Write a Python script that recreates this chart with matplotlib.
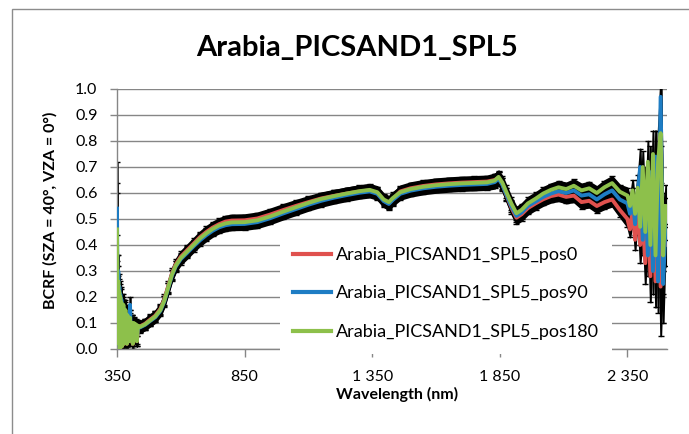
import matplotlib
matplotlib.use("Agg")
import matplotlib.pyplot as plt
from matplotlib.patches import Rectangle

plt.rcParams['font.family'] = ['Lato', 'DejaVu Sans']

# longitud de onda (nm)
wl = [350, 351, 353, 355, 357, 359, 361, 363, 365, 367, 369, 371, 373, 375, 377, 379, 381,
      383, 385, 387, 389, 391, 393, 395, 398, 401, 404, 408, 412, 416, 420, 424, 428, 432,
      440, 460, 480, 500, 520, 535, 550, 565, 580, 600, 625, 650, 675, 700, 725, 750, 775,
      800, 850, 900, 950, 1000, 1050, 1100, 1150, 1200, 1250, 1300, 1340, 1370, 1395, 1415,
      1430, 1460, 1500, 1550, 1600, 1650, 1700, 1750, 1800, 1830, 1845, 1860, 1875, 1895,
      1915, 1935, 1960, 1990, 2020, 2050, 2080, 2110, 2140, 2170, 2200, 2230, 2260, 2290,
      2320, 2350, 2360, 2370, 2380, 2390, 2400, 2410, 2420, 2430, 2440, 2450, 2460, 2470,
      2480, 2490, 2500]

pos0 = [0.42, 0.28, 0.04, 0.22, 0.02, 0.20, 0.01, 0.18, 0.03, 0.16, 0.01, 0.14, 0.04, 0.15,
        0.02, 0.13, 0.03, 0.13, 0.04, 0.12, 0.02, 0.11, 0.05, 0.10, 0.03, 0.12, 0.04, 0.10,
        0.02, 0.095, 0.04, 0.09, 0.03, 0.088,
        0.087, 0.097, 0.113, 0.128, 0.154, 0.19, 0.24, 0.29, 0.325, 0.355, 0.38, 0.405, 0.43,
        0.45, 0.467, 0.48, 0.49, 0.494, 0.495, 0.502, 0.517, 0.534, 0.55, 0.565, 0.579, 0.589,
        0.598, 0.606, 0.61, 0.60, 0.571, 0.56, 0.575, 0.606, 0.618, 0.627, 0.633, 0.637, 0.64,
        0.642, 0.644, 0.65, 0.658, 0.634, 0.595, 0.545, 0.505, 0.518, 0.542, 0.56, 0.576,
        0.588, 0.594, 0.585, 0.59, 0.565, 0.57, 0.55, 0.565, 0.575, 0.535,
        0.50, 0.46, 0.53, 0.42, 0.55, 0.40, 0.50, 0.33, 0.55, 0.28, 0.60, 0.26, 0.62, 0.24,
        0.45, 0.40]

pos90 = [0.54, 0.38, 0.08, 0.30, 0.03, 0.24, 0.01, 0.21, 0.04, 0.19, 0.02, 0.17, 0.05, 0.16,
         0.03, 0.15, 0.04, 0.14, 0.12, 0.10, 0.03, 0.12, 0.07, 0.10, 0.04, 0.17, 0.05, 0.10,
         0.03, 0.09, 0.05, 0.09, 0.04, 0.085,
         0.083, 0.093, 0.108, 0.122, 0.147, 0.182, 0.232, 0.282, 0.317, 0.346, 0.37, 0.395,
         0.418, 0.438, 0.455, 0.468, 0.476, 0.48, 0.481, 0.488, 0.503, 0.521, 0.538, 0.555,
         0.57, 0.582, 0.592, 0.601, 0.606, 0.597, 0.569, 0.558, 0.573, 0.597, 0.609, 0.618,
         0.624, 0.628, 0.631, 0.633, 0.635, 0.642, 0.655, 0.632, 0.596, 0.55, 0.512, 0.525,
         0.55, 0.567, 0.585, 0.598, 0.607, 0.60, 0.61, 0.59, 0.595, 0.575, 0.595, 0.61, 0.575,
         0.56, 0.52, 0.58, 0.48, 0.60, 0.70, 0.42, 0.62, 0.36, 0.68, 0.30, 0.74, 0.26, 0.97,
         0.25, 0.50]

pos180 = [0.46, 0.30, 0.05, 0.26, 0.02, 0.22, 0.00, 0.20, 0.03, 0.18, 0.01, 0.16, 0.04, 0.17,
          0.02, 0.14, 0.03, 0.15, 0.05, 0.12, 0.02, 0.13, 0.06, 0.11, 0.03, 0.12, 0.05, 0.10,
          0.02, 0.10, 0.04, 0.095, 0.03, 0.09,
          0.085, 0.095, 0.11, 0.125, 0.15, 0.185, 0.235, 0.285, 0.32, 0.35, 0.375, 0.40, 0.425,
          0.445, 0.462, 0.475, 0.483, 0.487, 0.488, 0.495, 0.51, 0.528, 0.545, 0.562, 0.577,
          0.588, 0.598, 0.607, 0.612, 0.603, 0.575, 0.565, 0.58, 0.603, 0.615, 0.624, 0.63,
          0.634, 0.637, 0.639, 0.641, 0.648, 0.662, 0.64, 0.605, 0.56, 0.522, 0.535, 0.56,
          0.578, 0.598, 0.612, 0.622, 0.615, 0.628, 0.61, 0.618, 0.60, 0.622, 0.638, 0.605,
          0.59, 0.55, 0.61, 0.52, 0.62, 0.47, 0.70, 0.45, 0.72, 0.40, 0.75, 0.36, 0.72, 0.83,
          0.36, 0.55]

# desviacion (barras de error)
err = [0.18, 0.06, 0.03, 0.06, 0.02, 0.05, 0.02, 0.05, 0.02, 0.05, 0.02, 0.04, 0.02, 0.04,
       0.02, 0.04, 0.02, 0.04, 0.03, 0.04, 0.02, 0.04, 0.03, 0.03, 0.02, 0.03, 0.02, 0.03,
       0.02, 0.025, 0.02, 0.02, 0.02, 0.02,
       0.02, 0.02, 0.02, 0.02, 0.02, 0.02, 0.02, 0.02, 0.02, 0.021, 0.021, 0.021,
       0.021, 0.022, 0.022, 0.022, 0.022, 0.022, 0.022, 0.022, 0.022, 0.022, 0.022, 0.022,
       0.022, 0.022, 0.022, 0.022, 0.022, 0.022, 0.022, 0.022, 0.022, 0.022, 0.022, 0.022,
       0.022, 0.022, 0.022, 0.022, 0.022, 0.024, 0.024, 0.024, 0.024, 0.024, 0.024, 0.024,
       0.024, 0.024, 0.024, 0.024, 0.024, 0.024, 0.024, 0.025, 0.025, 0.025, 0.026, 0.026,
       0.026, 0.03, 0.03, 0.04, 0.04, 0.05, 0.07, 0.06, 0.08, 0.08, 0.10, 0.09, 0.10, 0.12,
       0.19, 0.15, 0.08]

names = ['Arabia_PICSAND1_SPL5_pos0', 'Arabia_PICSAND1_SPL5_pos90', 'Arabia_PICSAND1_SPL5_pos180']
colors = ['#E0514E', '#1E7DC4', '#8DC04B']
series = [pos0, pos90, pos180]

fig = plt.figure(figsize=(6.89, 4.34), dpi=100)
ax = fig.add_axes([117/689, 1 - 349/434, 550/689, 260/434])

for y in series:
    lo = [a - e for a, e in zip(y, err)]
    hi = [a + e for a, e in zip(y, err)]
    ax.fill_between(wl, lo, hi, color='black', lw=1.2, zorder=1)
    ax.errorbar(wl, y, yerr=err, fmt='none', ecolor='black', elinewidth=1,
                capsize=2.5, capthick=1, zorder=1)

lines = []
for i, y in enumerate(series):
    l, = ax.plot(wl, y, color=colors[i], lw=2.8, zorder=2 + i, label=names[i])
    lines.append(l)

ax.set_xlim(350, 2505)
ax.set_ylim(0, 1.0)
ax.set_yticks([i / 10 for i in range(11)])
ax.set_yticklabels(['%.1f' % (i / 10) for i in range(11)])
ax.set_xticks([350, 850, 1350, 1850, 2350])
ax.set_xticklabels(['350', '850', '1 350', '1 850', '2 350'])
ax.grid(axis='y', color='#868686', lw=1)
ax.set_axisbelow(True)
for s in ['top', 'right']:
    ax.spines[s].set_visible(False)
for s in ['left', 'bottom']:
    ax.spines[s].set_color('#868686')
    ax.spines[s].set_linewidth(1)
ax.tick_params(axis='y', colors='#868686', labelcolor='black', length=5, width=1,
               labelsize=11.5, pad=9)
ax.tick_params(axis='x', colors='#868686', labelcolor='black', length=6, width=1,
               labelsize=11.5, pad=9)

leg = ax.legend(handles=lines, loc='upper left', bbox_to_anchor=(0.296, 0.445),
                fontsize=13, frameon=True, fancybox=False, framealpha=1,
                facecolor='white', edgecolor='none', borderpad=0.75, borderaxespad=0,
                handlelength=2.1, handletextpad=0.25, labelspacing=1.25)
leg.set_zorder(10)
for h in leg.get_lines():
    h.set_linewidth(3)

fig.text(357/689, 1 - 56/434, 'Arabia_PICSAND1_SPL5', ha='center', va='baseline',
         fontsize=21, fontweight='bold')
fig.text(50/689, 1 - 210/434, 'BCRF (SZA = 40°, VZA = 0°)', rotation=90, ha='center',
         va='center', fontsize=11.5, fontweight='bold')
fig.text(397/689, 1 - 394/434, 'Wavelength (nm)', ha='center', va='center',
         fontsize=11.5, fontweight='bold')

# borde del grafico
fig.add_artist(Rectangle((12/689, -0.1), 1.0, 1.1 - 9/434, transform=fig.transFigure,
                         fill=False, edgecolor='#8C8C8C', lw=1))

plt.savefig('out.png', dpi=100)
